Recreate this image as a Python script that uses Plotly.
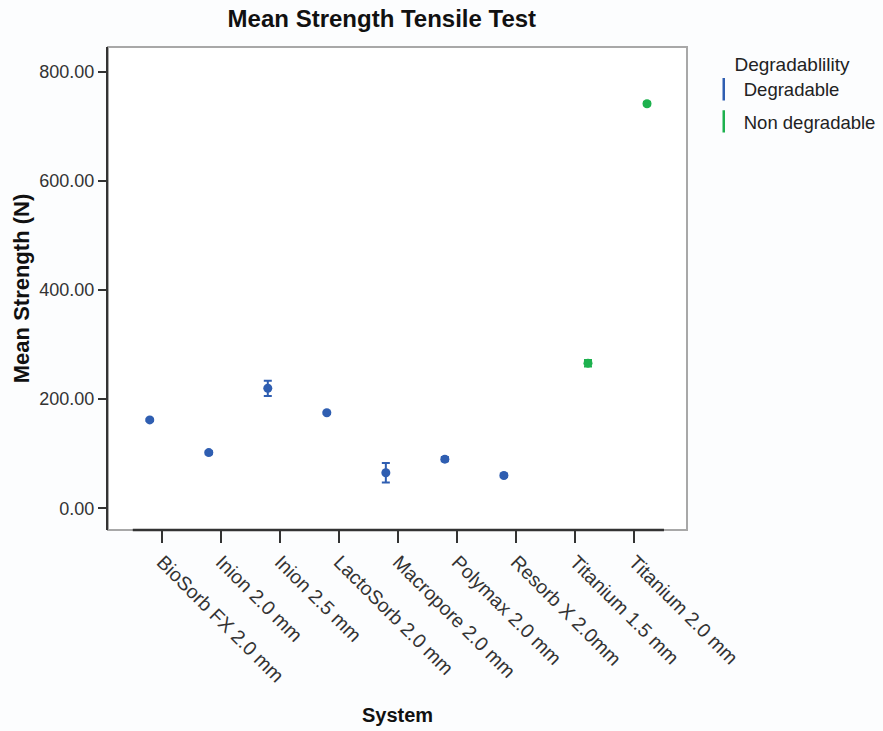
import plotly.graph_objects as go

categories = ["BioSorb FX 2.0 mm", "Inion 2.0 mm", "Inion 2.5 mm", "LactoSorb 2.0 mm",
              "Macropore 2.0 mm", "Polymax 2.0 mm", "Resorb X 2.0mm",
              "Titanium 1.5 mm", "Titanium 2.0 mm"]

deg_systems = ["BioSorb FX 2.0 mm", "Inion 2.0 mm", "Inion 2.5 mm", "LactoSorb 2.0 mm",
               "Macropore 2.0 mm", "Polymax 2.0 mm", "Resorb X 2.0mm"]
deg_mean = [162, 102, 220, 175, 65, 90, 60]
deg_err = [2, 3, 14, 2, 18, 4, 3]

nondeg_systems = ["Titanium 1.5 mm", "Titanium 2.0 mm"]
nondeg_mean = [266, 742]
nondeg_err = [6, 3]

y_ticks = [0, 200, 400, 600, 800]

BLUE = "#2F5EB1"
GREEN = "#1DB14E"
FONT = "Liberation Sans, Arial, sans-serif"

fig = go.Figure()
fig.add_trace(go.Scatter(
    x=deg_systems, y=deg_mean, mode="markers", name="Degradable",
    offsetgroup="deg", showlegend=False,
    marker=dict(color=BLUE, size=9),
    error_y=dict(type="data", array=deg_err, color=BLUE, thickness=2, width=4),
))
fig.add_trace(go.Scatter(
    x=nondeg_systems, y=nondeg_mean, mode="markers", name="Non degradable",
    offsetgroup="nondeg", showlegend=False,
    marker=dict(color=GREEN, size=9),
    error_y=dict(type="data", array=nondeg_err, color=GREEN, thickness=2, width=4),
))
# legend entries
fig.add_trace(go.Scatter(
    x=[None], y=[None], mode="markers", name="Degradable", offsetgroup="deg",
    legendgroup="a",
    marker=dict(symbol="line-ns-open", size=18, color=BLUE, line=dict(color=BLUE, width=2.5)),
))
fig.add_trace(go.Scatter(
    x=[None], y=[None], mode="markers", name="Non degradable", offsetgroup="nondeg",
    legendgroup="b",
    marker=dict(symbol="line-ns-open", size=18, color=GREEN, line=dict(color=GREEN, width=2.5)),
))

n = len(categories)
fig.update_layout(
    width=883, height=731,
    margin=dict(l=108, r=196, t=47, b=201),
    paper_bgcolor="#FCFDFE", plot_bgcolor="white",
    font=dict(family=FONT, color="#222222", size=16),
    scattermode="group", scattergap=0.15,
    title=dict(text="<b>Mean Strength Tensile Test</b>", font=dict(size=24, color="#111111"),
               x=0.473, xref="paper", xanchor="center", y=0.974, yanchor="middle"),
    showlegend=True,
    legend=dict(xref="container", yref="container", x=0.797, y=0.937,
                xanchor="left", yanchor="top",
                title=dict(text="Degradablility", font=dict(size=19), side="top center"),
                font=dict(size=18.5), traceorder="grouped", tracegroupgap=5,
                bgcolor="rgba(0,0,0,0)"),
    xaxis=dict(type="category", categoryorder="array", categoryarray=categories,
               range=[-0.92, n - 1 + 0.89], showline=False, showgrid=False, automargin=False,
               ticks="outside", ticklen=12, tickwidth=2, tickcolor="#333333",
               tickangle=45, tickfont=dict(size=19.5, color="#333333"),
               title=dict(text="<b>System</b>", font=dict(size=20, color="#111111"), standoff=22)),
    yaxis=dict(range=[-40, 846], tickvals=y_ticks, tickformat=".2f", automargin=False,
               showline=True, linecolor="#333333", linewidth=2,
               ticks="outside", ticklen=8, tickwidth=2, tickcolor="#333333",
               showgrid=False, zeroline=False, tickfont=dict(size=18, color="#333333"),
               title=dict(text="<b>Mean Strength (N)</b>", font=dict(size=22, color="#111111"), standoff=4)),
    shapes=[
        dict(type="rect", xref="paper", yref="paper", x0=0, x1=1, y0=0, y1=1,
             line=dict(color="#A8A8A8", width=2), layer="below"),
        dict(type="line", xref="x", yref="paper", x0=-0.5, x1=n - 0.5, y0=0, y1=0,
             line=dict(color="#333333", width=2.5)),
    ],
)

fig.write_html("out.html")
